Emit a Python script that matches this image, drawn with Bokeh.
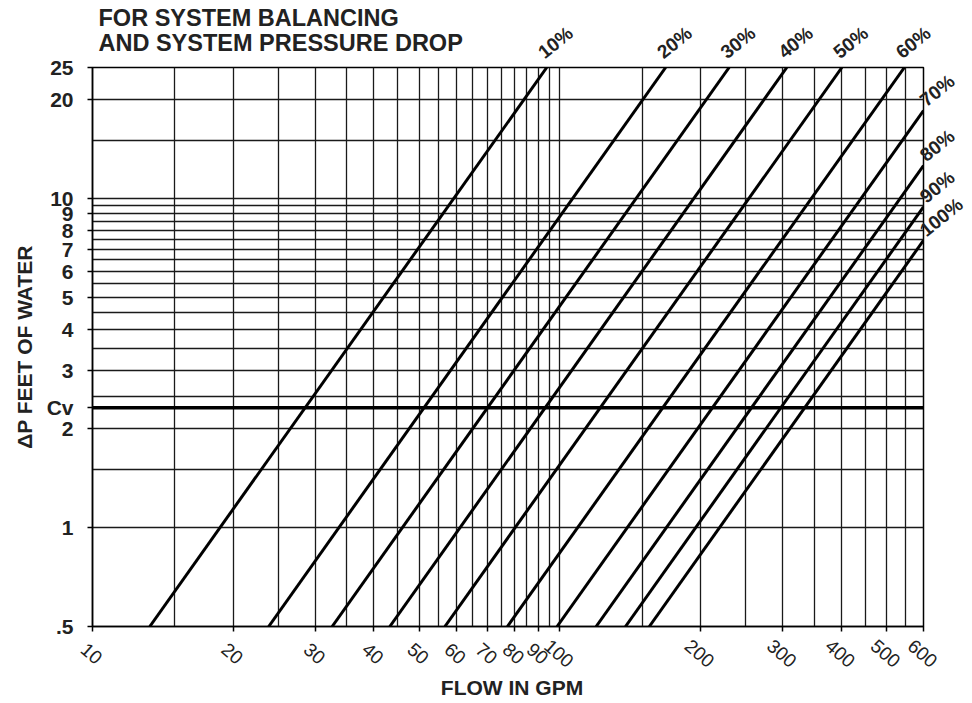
import math
from bokeh.plotting import figure
from bokeh.models import FixedTicker, Span, ColumnDataSource
from bokeh.core.properties import value
from bokeh.embed import file_html
from bokeh.resources import INLINE

# ---- data ----
openings = ["10%", "20%", "30%", "40%", "50%", "60%", "70%", "80%", "90%", "100%"]
cv_values = [28.5, 51.2, 70.0, 93.0, 122.0, 166.0, 212.0, 257.0, 297.0, 334.0]
CV_FT = 2.31          # feet of water at 1 psi (the "Cv" line)

x_ticks = [10, 20, 30, 40, 50, 60, 70, 80, 90, 100, 200, 300, 400, 500, 600]
x_tick_text = [str(v) for v in x_ticks]
x_grid = [10, 15, 20, 25, 30, 35, 40, 45, 50, 55, 60, 65, 70, 75, 80, 85, 90, 95, 100,
          150, 200, 250, 300, 350, 400, 450, 500, 550, 600]
y_ticks = [0.5, 1, 2, CV_FT, 3, 4, 5, 6, 7, 8, 9, 10, 20, 25]
y_tick_text = [".5", "1", "2", "Cv", "3", "4", "5", "6", "7", "8", "9", "10", "20", "25"]
y_grid = [1, 1.5, 2, 2.5, 3, 3.5, 4, 4.5, 5, 5.5, 6, 6.5, 7, 7.5, 8, 8.5, 9, 9.5,
          10, 15, 20, 25]
title_lines = ["FOR SYSTEM BALANCING", "AND SYSTEM PRESSURE DROP"]
x_title = "FLOW IN GPM"
y_title = "\u0394P FEET OF WATER"

X_MIN, X_MAX = 10, 600
Y_MIN, Y_MAX = 0.5, 25

FONT = "Liberation Sans"
INK = "#222222"

p = figure(width=972, height=703, x_axis_type="log", y_axis_type="log",
           x_range=(X_MIN, X_MAX), y_range=(Y_MIN, Y_MAX), title=None,
           output_backend="svg", toolbar_location=None,
           min_border_left=92, min_border_right=49, min_border_top=67,
           min_border_bottom=77)
p.outline_line_color = "black"
p.outline_line_width = 1.5

# grids
p.xgrid.ticker = FixedTicker(ticks=x_grid, minor_ticks=[])
p.ygrid.ticker = FixedTicker(ticks=y_grid, minor_ticks=[])
for g in (p.xgrid, p.ygrid):
    g.grid_line_color = "#1a1a1a"
    g.grid_line_width = 1.3
    g.grid_line_alpha = 1.0

# x axis (tick marks from the axis; slanted labels drawn as text below)
xa = p.xaxis[0]
xa.ticker = FixedTicker(ticks=x_ticks, minor_ticks=[])
xa.major_label_overrides = {v: "" for v in x_ticks}
xa.major_label_text_font_size = "1px"
xa.major_label_standoff = 0
xa.major_tick_out = 5
xa.major_tick_in = 0
xa.minor_tick_line_color = None
xa.axis_line_width = 1.5
xa.major_tick_line_width = 1.5

# y axis
ya = p.yaxis[0]
ya.ticker = FixedTicker(ticks=y_ticks, minor_ticks=[])
ya.major_label_overrides = dict(zip(y_ticks, y_tick_text))
ya.major_label_text_font = FONT
ya.major_label_text_font_size = "21px"
ya.major_label_text_font_style = "bold"
ya.major_label_text_color = INK
ya.major_label_standoff = 14
ya.major_tick_out = 5
ya.major_tick_in = 0
ya.minor_tick_line_color = None
ya.axis_line_width = 1.5
ya.major_tick_line_width = 1.5
ya.axis_label = y_title
ya.axis_label_text_font = FONT
ya.axis_label_text_font_size = "21px"
ya.axis_label_text_font_style = "bold"
ya.axis_label_text_color = INK
ya.axis_label_standoff = 8

# Cv reference line
p.add_layout(Span(location=CV_FT, dimension="width", line_color="black", line_width=3.5))

# valve-opening lines: dP = CV_FT * (Q / Cv)^2
xs, ys = [], []
lx, ly, lxo, lyo = [], [], [], []
for cv in cv_values:
    q0 = cv * math.sqrt(Y_MIN / CV_FT)
    q1 = min(cv * math.sqrt(Y_MAX / CV_FT), X_MAX)
    y1 = CV_FT * (q1 / cv) ** 2
    xs.append([q0, q1])
    ys.append([Y_MIN, y1])
    lx.append(q1)
    ly.append(y1)
    if q1 < X_MAX:
        lxo.append(-6)
        lyo.append(-13)
    else:
        lxo.append(-1)
        lyo.append(-8)

p.multi_line(xs=xs, ys=ys, line_color="black", line_width=3)

# opening labels (overlay level so they may sit outside the frame)
lab_src = ColumnDataSource(dict(x=lx, y=ly, text=openings, xo=lxo, yo=lyo))
p.text(x="x", y="y", text="text", source=lab_src, x_offset="xo", y_offset="yo",
       angle=0.68, text_font=value(FONT), text_font_size="19px",
       text_font_style="bold", text_color=INK, text_baseline="middle",
       text_align="left", level="overlay")

# slanted x tick labels, centred under each tick
xt_src = ColumnDataSource(dict(x=x_ticks, y=[Y_MIN] * len(x_ticks), text=x_tick_text))
p.text(x="x", y="y", text="text", source=xt_src, x_offset=-1, y_offset=27,
       angle=-0.72, text_font=value(FONT), text_font_size="19px",
       text_color=INK, text_baseline="middle", text_align="center",
       level="overlay")

# x axis title
xl_src = ColumnDataSource(dict(x=[math.sqrt(X_MIN * X_MAX)], y=[Y_MIN], text=[x_title]))
p.text(x="x", y="y", text="text", source=xl_src, x_offset=4, y_offset=61,
       text_font=value(FONT), text_font_size="21px", text_font_style="bold",
       text_color=INK, text_baseline="middle", text_align="center",
       level="overlay")

# chart title, two lines
tt_src = ColumnDataSource(dict(x=[X_MIN, X_MIN], y=[Y_MAX, Y_MAX], text=title_lines,
                               yo=[-49.5, -25]))
p.text(x="x", y="y", text="text", source=tt_src, x_offset=6, y_offset="yo",
       text_font=value(FONT), text_font_size="23.5px", text_font_style="bold",
       text_color=INK, text_baseline="middle", text_align="left",
       level="overlay")

open("out.html", "w").write(file_html(p, INLINE))
